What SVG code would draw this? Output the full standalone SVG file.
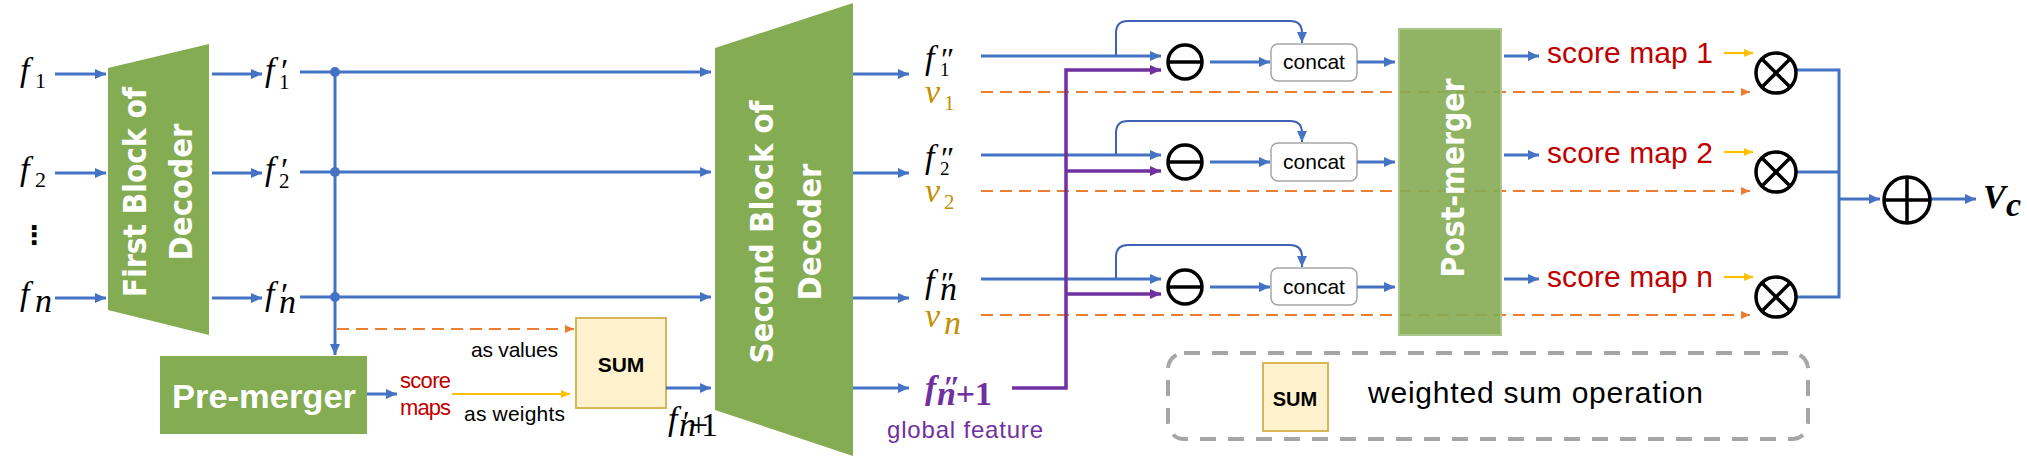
<svg xmlns="http://www.w3.org/2000/svg" width="2027" height="459" viewBox="0 0 2027 459">
<style>
.bl{stroke:#4472C4;stroke-width:3;fill:none}
.sk{stroke:#3F62B5;stroke-width:2;fill:none}
.pu{stroke:#7030A0;stroke-width:3.5;fill:none}
.od{stroke:#ED7D31;stroke-width:2.2;fill:none;stroke-dasharray:12 7}
.ye{stroke:#FFC000;stroke-width:2.2;fill:none}
.op{stroke:#000;stroke-width:3.5;fill:none}
.grn{fill:#84AC52}
.bt{font-family:"DejaVu Sans Condensed","DejaVu Sans",sans-serif;font-weight:bold;font-size:32px;fill:#fff;text-anchor:middle}
.m{font-family:"Liberation Serif","DejaVu Serif",serif;font-style:italic;font-size:34px;fill:#000}
.mu{font-family:"Liberation Serif","DejaVu Serif",serif;font-style:normal;fill:#000}
.lb{font-family:"Liberation Sans",Arial,sans-serif;fill:#000}
.red{fill:#C00000}
.gold{fill:#BF9000}
.purp{fill:#7030A0}
.sumbox{fill:#FFF2CC;stroke:#D6B656;stroke-width:2}
.cc{fill:#fff;stroke:#A6A6A6;stroke-width:1.5}
</style>
<defs>
<marker id="ab" markerUnits="userSpaceOnUse" markerWidth="12" markerHeight="10" refX="11" refY="5" orient="auto"><path d="M0,0 L11,5 L0,10 z" fill="#4472C4"/></marker>
<marker id="ap" markerUnits="userSpaceOnUse" markerWidth="12" markerHeight="10" refX="11" refY="5" orient="auto"><path d="M0,0 L11,5 L0,10 z" fill="#7030A0"/></marker>
<marker id="ao" markerUnits="userSpaceOnUse" markerWidth="10" markerHeight="8" refX="9" refY="4" orient="auto"><path d="M0,0 L9,4 L0,8 z" fill="#ED7D31"/></marker>
<marker id="ay" markerUnits="userSpaceOnUse" markerWidth="10" markerHeight="8" refX="9" refY="4" orient="auto"><path d="M0,0 L9,4 L0,8 z" fill="#FFC000"/></marker>
</defs>

<g id="inputs">
<text class="m" x="20" y="81">f</text><text class="mu" x="35" y="88" font-size="22">1</text>
<text class="m" x="20" y="180">f</text><text class="mu" x="35" y="187" font-size="22">2</text>
<text x="34" y="244" font-family="DejaVu Sans,sans-serif" font-weight="bold" font-size="26" text-anchor="middle">⋮</text>
<text class="m" x="20" y="305">f</text><text class="m" x="35" y="312" font-size="22">n</text>
</g>

<g id="first-block">
<polygon class="grn" points="108,68 209,44 209,335 108,310"/>
<text class="bt" transform="translate(146,192) rotate(-90)" textLength="210" lengthAdjust="spacingAndGlyphs">First Block of</text>
<text class="bt" transform="translate(192,192) rotate(-90)" textLength="137" lengthAdjust="spacingAndGlyphs">Decoder</text>
</g>

<g id="fprime-labels">
<text class="m" x="265" y="81">f</text><text class="mu" x="281" y="82" font-size="34">′</text><text class="mu" x="279" y="89" font-size="21">1</text>
<text class="m" x="265" y="180">f</text><text class="mu" x="281" y="181" font-size="34">′</text><text class="mu" x="279" y="188" font-size="21">2</text>
<text class="m" x="265" y="305">f</text><text class="mu" x="281" y="306" font-size="34">′</text><text class="m" x="279" y="313" font-size="21">n</text>
</g>

<g id="pre-merger">
<rect class="grn" x="160" y="356" width="207" height="78"/>
<text class="lb" x="264" y="408" font-size="34" font-weight="bold" style="fill:#fff" text-anchor="middle" textLength="184" lengthAdjust="spacingAndGlyphs">Pre-merger</text>
</g>

<g id="sum">
<rect class="sumbox" x="576" y="318" width="90" height="90"/>
<text class="lb" x="621" y="372" font-size="21" font-weight="bold" text-anchor="middle">SUM</text>
</g>

<g id="second-block">
<polygon class="grn" points="715,48 853,3 853,456 715,410"/>
<text class="bt" transform="translate(773,232) rotate(-90)" textLength="263" lengthAdjust="spacingAndGlyphs">Second Block of</text>
<text class="bt" transform="translate(821,232) rotate(-90)" textLength="137" lengthAdjust="spacingAndGlyphs">Decoder</text>
</g>

<g id="side-labels">
<text class="lb" x="471" y="357" font-size="21" textLength="87">as values</text>
<text class="lb" x="464" y="421" font-size="21" textLength="101">as weights</text>
<text class="lb red" x="400" y="388" font-size="22" textLength="51">score</text>
<text class="lb red" x="400" y="415" font-size="22" textLength="51">maps</text>
<text class="m" x="668" y="430" font-size="30">f</text><text class="mu" x="683" y="431" font-size="30">′</text><text class="m" x="679" y="436" font-size="20" textLength="39">n<tspan font-style="normal">+1</tspan></text>
</g>

<g id="fdouble-labels">
<text class="m" x="925" y="69" font-size="31">f</text><text class="mu" x="941" y="70" font-size="32">″</text><text class="mu" x="940" y="76" font-size="19">1</text>
<text class="m gold" x="925" y="103" font-size="32">v</text><text class="mu gold" x="944" y="110" font-size="21">1</text>
<text class="m" x="925" y="168" font-size="31">f</text><text class="mu" x="941" y="169" font-size="32">″</text><text class="mu" x="940" y="175" font-size="19">2</text>
<text class="m gold" x="925" y="202" font-size="32">v</text><text class="mu gold" x="944" y="209" font-size="21">2</text>
<text class="m" x="925" y="293" font-size="31">f</text><text class="mu" x="941" y="294" font-size="32">″</text><text class="m" x="940" y="300" font-size="19">n</text>
<text class="m gold" x="925" y="327" font-size="32">v</text><text class="m gold" x="944" y="334" font-size="21">n</text>
<text class="m purp" x="925" y="399" font-size="33" font-weight="bold">f</text><text class="mu purp" x="943" y="398" font-size="32" font-weight="bold">″</text><text class="m purp" x="937" y="405" font-size="23" font-weight="bold" textLength="55">n<tspan font-style="normal">+1</tspan></text>
<text class="lb purp" x="887" y="438" font-size="24" textLength="156">global feature</text>
</g>

<g id="minus-ops">
<circle class="op" cx="1185" cy="62" r="17"/><line class="op" x1="1168" y1="62" x2="1202" y2="62"/>
<circle class="op" cx="1185" cy="162" r="17"/><line class="op" x1="1168" y1="162" x2="1202" y2="162"/>
<circle class="op" cx="1185" cy="287" r="17"/><line class="op" x1="1168" y1="287" x2="1202" y2="287"/>
</g>

<g id="concat-boxes">
<rect class="cc" x="1271" y="44" width="86" height="37" rx="7"/><text class="lb" x="1314" y="69" font-size="21" text-anchor="middle">concat</text>
<rect class="cc" x="1271" y="143" width="86" height="38" rx="7"/><text class="lb" x="1314" y="169" font-size="21" text-anchor="middle">concat</text>
<rect class="cc" x="1271" y="268" width="86" height="37" rx="7"/><text class="lb" x="1314" y="294" font-size="21" text-anchor="middle">concat</text>
</g>

<g id="connectors">
<line class="bl" x1="55" y1="74" x2="106" y2="74" marker-end="url(#ab)"/>
<line class="bl" x1="55" y1="173" x2="106" y2="173" marker-end="url(#ab)"/>
<line class="bl" x1="55" y1="298" x2="106" y2="298" marker-end="url(#ab)"/>
<line class="bl" x1="212" y1="74" x2="262" y2="74" marker-end="url(#ab)"/>
<line class="bl" x1="212" y1="173" x2="262" y2="173" marker-end="url(#ab)"/>
<line class="bl" x1="212" y1="298" x2="262" y2="298" marker-end="url(#ab)"/>
<line class="bl" x1="300" y1="72" x2="711" y2="72" marker-end="url(#ab)"/>
<line class="bl" x1="300" y1="172" x2="711" y2="172" marker-end="url(#ab)"/>
<line class="bl" x1="300" y1="297" x2="711" y2="297" marker-end="url(#ab)"/>
<line class="bl" x1="335" y1="72" x2="335" y2="355" marker-end="url(#ab)"/>
<circle cx="335" cy="72" r="5" fill="#4472C4"/>
<circle cx="335" cy="172" r="5" fill="#4472C4"/>
<circle cx="335" cy="297" r="5" fill="#4472C4"/>
<line class="od" x1="337" y1="329" x2="574" y2="329" marker-end="url(#ao)"/>
<line class="bl" x1="367" y1="394" x2="397" y2="394" marker-end="url(#ab)"/>
<line class="ye" x1="452" y1="394" x2="570" y2="394" marker-end="url(#ay)"/>
<line class="bl" x1="666" y1="388" x2="711" y2="388" marker-end="url(#ab)"/>
<line class="bl" x1="853" y1="74" x2="909" y2="74" marker-end="url(#ab)"/>
<line class="bl" x1="853" y1="173" x2="909" y2="173" marker-end="url(#ab)"/>
<line class="bl" x1="853" y1="298" x2="909" y2="298" marker-end="url(#ab)"/>
<line class="bl" x1="853" y1="388" x2="909" y2="388" marker-end="url(#ab)"/>
<line class="bl" x1="981" y1="56" x2="1161" y2="56" marker-end="url(#ab)"/>
<line class="bl" x1="981" y1="155" x2="1161" y2="155" marker-end="url(#ab)"/>
<line class="bl" x1="981" y1="279" x2="1161" y2="279" marker-end="url(#ab)"/>
<line class="od" x1="981" y1="92" x2="1750" y2="92" marker-end="url(#ao)"/>
<line class="od" x1="981" y1="191" x2="1750" y2="191" marker-end="url(#ao)"/>
<line class="od" x1="981" y1="315" x2="1750" y2="315" marker-end="url(#ao)"/>
<path class="pu" d="M1012,388 H1066 V70 H1161" marker-end="url(#ap)"/>
<line class="pu" x1="1066" y1="171" x2="1161" y2="171" marker-end="url(#ap)"/>
<line class="pu" x1="1066" y1="294" x2="1161" y2="294" marker-end="url(#ap)"/>
<path class="sk" d="M1116,55 V33 Q1116,21 1128,21 H1290 Q1302,21 1302,33 V43" marker-end="url(#ab)"/>
<path class="sk" d="M1116,154 V133 Q1116,121 1128,121 H1290 Q1302,121 1302,133 V142" marker-end="url(#ab)"/>
<path class="sk" d="M1116,278 V257 Q1116,245 1128,245 H1290 Q1302,245 1302,257 V267" marker-end="url(#ab)"/>
<line class="bl" x1="1210" y1="62" x2="1270" y2="62" marker-end="url(#ab)"/>
<line class="bl" x1="1210" y1="162" x2="1270" y2="162" marker-end="url(#ab)"/>
<line class="bl" x1="1210" y1="287" x2="1270" y2="287" marker-end="url(#ab)"/>
<line class="bl" x1="1357" y1="62" x2="1395" y2="62" marker-end="url(#ab)"/>
<line class="bl" x1="1357" y1="162" x2="1395" y2="162" marker-end="url(#ab)"/>
<line class="bl" x1="1357" y1="287" x2="1395" y2="287" marker-end="url(#ab)"/>
<line class="bl" x1="1504" y1="56" x2="1539" y2="56" marker-end="url(#ab)"/>
<line class="bl" x1="1504" y1="155" x2="1539" y2="155" marker-end="url(#ab)"/>
<line class="bl" x1="1504" y1="279" x2="1539" y2="279" marker-end="url(#ab)"/>
<line class="ye" x1="1724" y1="53" x2="1753" y2="53" marker-end="url(#ay)"/>
<line class="ye" x1="1724" y1="152" x2="1753" y2="152" marker-end="url(#ay)"/>
<line class="ye" x1="1724" y1="277" x2="1753" y2="277" marker-end="url(#ay)"/>
<path class="bl" d="M1797,70 H1839 V297 H1797"/>
<line class="bl" x1="1797" y1="172" x2="1839" y2="172"/>
<line class="bl" x1="1839" y1="199" x2="1880" y2="199" marker-end="url(#ab)"/>
<line class="bl" x1="1931" y1="199" x2="1976" y2="199" marker-end="url(#ab)"/>
</g>

<g id="post-merger">
<rect x="1399" y="29" width="102" height="306" fill="#84AC52" fill-opacity="0.9" stroke="#A9C78A" stroke-width="2"/>
<text class="bt" transform="translate(1464,178) rotate(-90)" textLength="199" lengthAdjust="spacingAndGlyphs">Post-merger</text>
</g>

<g id="score-maps">
<text class="lb red" x="1547" y="63" font-size="30" textLength="166">score map 1</text>
<text class="lb red" x="1547" y="163" font-size="30" textLength="166">score map 2</text>
<text class="lb red" x="1547" y="287" font-size="30" textLength="166">score map n</text>
</g>

<g id="mul-ops">
<circle class="op" cx="1776" cy="73" r="20" stroke-width="4"/><path class="op" stroke-width="4" d="M1762,59 L1790,87 M1790,59 L1762,87"/>
<circle class="op" cx="1776" cy="172" r="20" stroke-width="4"/><path class="op" stroke-width="4" d="M1762,158 L1790,186 M1790,158 L1762,186"/>
<circle class="op" cx="1776" cy="297" r="20" stroke-width="4"/><path class="op" stroke-width="4" d="M1762,283 L1790,311 M1790,283 L1762,311"/>
</g>

<g id="add-op">
<circle class="op" cx="1907" cy="200" r="23" stroke-width="4"/><path class="op" stroke-width="4" d="M1884,200 H1930 M1907,177 V223"/>
</g>

<g id="output">
<text class="m" x="1983" y="208" font-size="31" font-weight="bold">V</text><text class="m" x="2006" y="216" font-size="23" font-weight="bold">c</text>
</g>

<g id="legend">
<rect x="1168" y="353" width="640" height="86" rx="16" fill="none" stroke="#A6A6A6" stroke-width="4" stroke-dasharray="16 12"/>
<rect class="sumbox" x="1263" y="363" width="65" height="68"/>
<text class="lb" x="1295" y="406" font-size="20" font-weight="bold" text-anchor="middle">SUM</text>
<text class="lb" x="1368" y="403" font-size="30" textLength="335">weighted sum operation</text>
</g>
</svg>
